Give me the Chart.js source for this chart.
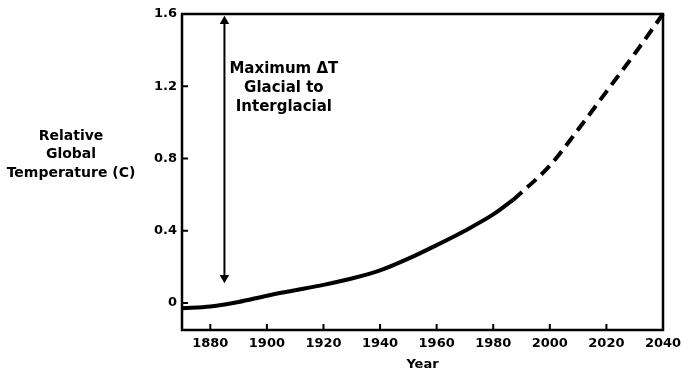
<!DOCTYPE html>
<html>
<head>
<meta charset="utf-8">
<script src="https://cdn.jsdelivr.net/npm/chart.js@4"></script>
<style>
  html, body { margin: 0; padding: 0; background: #fff; }
  #wrap { width: 681px; height: 372px; }
</style>
</head>
<body>
<div id="wrap"><canvas id="tempChart"></canvas></div>
<script>
// ===== DATA =====
const obsYears = [1870, 1880, 1890, 1900, 1910, 1920, 1930, 1940, 1950, 1960, 1970, 1980, 1987];
const obsTemps = [-0.03, -0.02, 0.005, 0.04, 0.07, 0.10, 0.135, 0.18, 0.245, 0.32, 0.40, 0.49, 0.57];

const projYears = [1987, 2000, 2010, 2020, 2030, 2040];
const projTemps = [0.57, 0.76, 0.96, 1.17, 1.38, 1.6];

const arrowYears = [1885, 1885];
const arrowTemps = [0.14, 1.56];

const xTicks = [1880, 1900, 1920, 1940, 1960, 1980, 2000, 2020, 2040];
const yTicks = [0, 0.4, 0.8, 1.2, 1.6];

const noteLines = ["Maximum \u0394T", "Glacial to", "Interglacial"];
const yTitleLines = ["Relative", "Global", "Temperature (C)"];

const FONT = "'DejaVu Sans', sans-serif";

function toPoints(xs, ys) {
  return xs.map((x, i) => ({ x: x, y: ys[i] }));
}

// ===== PLUGIN: box, inner ticks, texts =====
const framePlugin = {
  id: 'frame',
  afterDatasetsDraw(chart) {
    const ctx = chart.ctx;
    const area = chart.chartArea;
    const xs = chart.scales.x;
    const ys = chart.scales.y;
    ctx.save();
    ctx.strokeStyle = '#000';
    ctx.lineWidth = 2.5;
    ctx.strokeRect(area.left, area.top, area.right - area.left, area.bottom - area.top);

    // inner tick marks
    ctx.lineWidth = 2;
    ctx.beginPath();
    xTicks.forEach(v => {
      const px = xs.getPixelForValue(v);
      ctx.moveTo(px, area.bottom);
      ctx.lineTo(px, area.bottom - 6);
    });
    yTicks.forEach(v => {
      const py = ys.getPixelForValue(v);
      ctx.moveTo(area.left, py);
      ctx.lineTo(area.left + 6, py);
    });
    ctx.stroke();

    // annotation next to the arrow
    ctx.fillStyle = '#000';
    ctx.textAlign = 'center';
    ctx.textBaseline = 'middle';
    ctx.font = 'bold 15px ' + FONT;
    const nx = xs.getPixelForValue(1906);
    const ny = ys.getPixelForValue(1.19);
    noteLines.forEach((t, i) => ctx.fillText(t, nx, ny + (i - 1) * 19));

    // horizontal y axis title
    ctx.font = 'bold 14px ' + FONT;
    const tx = area.left - 111;
    const ty = ys.getPixelForValue(0.82);
    yTitleLines.forEach((t, i) => ctx.fillText(t, tx, ty + (i - 1) * 18.5));
    ctx.restore();
  }
};

// ===== CHART =====
new Chart(document.getElementById('tempChart'), {
  type: 'line',
  data: {
    datasets: [
      {
        label: 'Observed',
        data: toPoints(obsYears, obsTemps),
        borderColor: '#000',
        borderWidth: 4,
        pointRadius: 0,
        cubicInterpolationMode: 'monotone',
        clip: false
      },
      {
        label: 'Projected',
        data: toPoints(projYears, projTemps),
        borderColor: '#000',
        borderWidth: 4,
        borderDash: [12, 7],
        pointRadius: 0,
        cubicInterpolationMode: 'monotone',
        clip: false
      },
      {
        label: 'Max dT',
        data: toPoints(arrowYears, arrowTemps),
        borderColor: '#000',
        backgroundColor: '#000',
        borderWidth: 2,
        pointStyle: 'triangle',
        pointRadius: 3.5,
        pointRotation: [180, 0],
        clip: false
      }
    ]
  },
  options: {
    responsive: true,
    maintainAspectRatio: false,
    animation: false,
    events: [],
    layout: { padding: { left: 0, right: 18, top: 14, bottom: 0 } },
    plugins: {
      legend: { display: false },
      tooltip: { enabled: false }
    },
    scales: {
      x: {
        type: 'linear',
        min: 1870,
        max: 2040,
        afterBuildTicks: s => { s.ticks = xTicks.map(v => ({ value: v })); },
        afterFit: s => { s.height = 42; s.paddingLeft = 0; s.paddingRight = 0; },
        grid: { display: false, drawTicks: false },
        border: { display: false },
        ticks: {
          color: '#000',
          padding: 6,
          maxRotation: 0,
          font: { family: FONT, weight: 'bold', size: 13 },
          callback: v => String(v)
        },
        title: {
          display: true,
          text: 'Year',
          color: '#000',
          padding: { top: 0, bottom: 0 },
          font: { family: FONT, weight: 'bold', size: 13 }
        }
      },
      y: {
        min: -0.15,
        max: 1.6,
        afterBuildTicks: s => { s.ticks = yTicks.map(v => ({ value: v })); },
        afterFit: s => { s.width = 182; },
        grid: { display: false, drawTicks: false },
        border: { display: false },
        ticks: {
          color: '#000',
          padding: 5,
          font: { family: FONT, weight: 'bold', size: 13 },
          callback: v => (v === 0 ? '0' : v.toFixed(1))
        }
      }
    }
  },
  plugins: [framePlugin]
});
</script>
</body>
</html>
